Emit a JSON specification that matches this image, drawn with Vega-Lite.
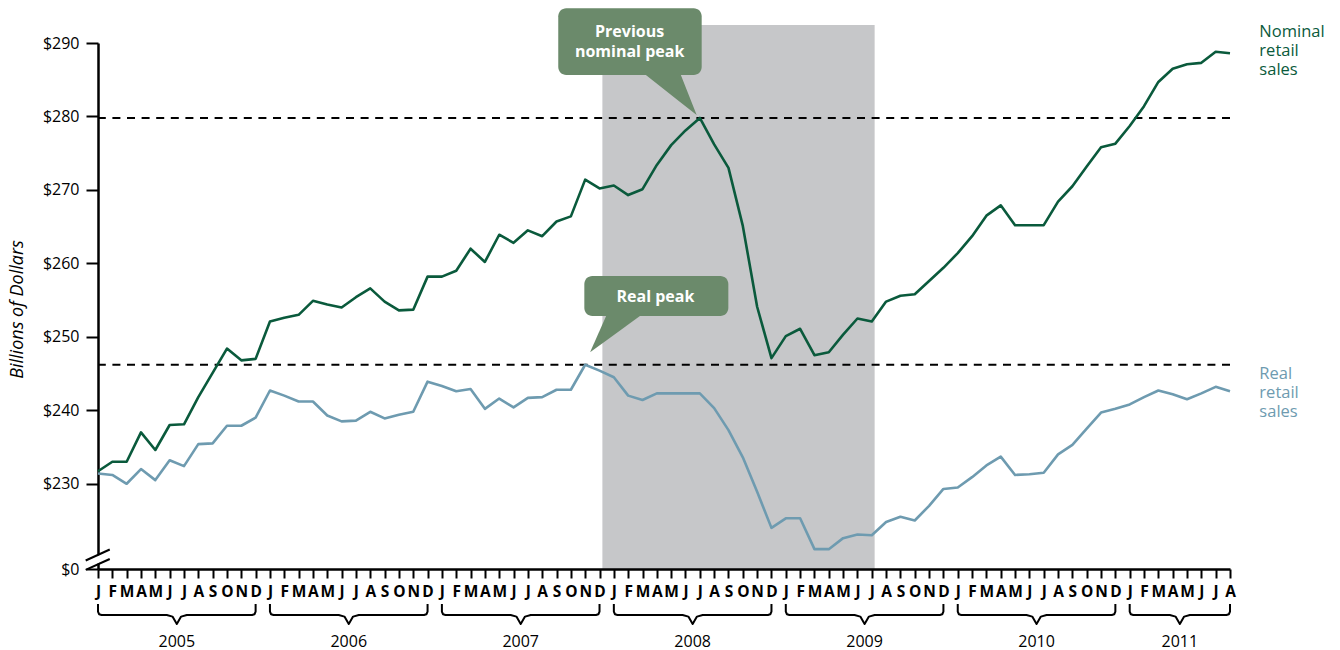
{
  "$schema": "https://vega.github.io/schema/vega-lite/v6.json",
  "width": 1132,
  "height": 526,
  "autosize": {"type": "none"},
  "padding": {"left": 98, "top": 43, "right": 110, "bottom": 81},
  "background": "#ffffff",
  "config": {
    "view": {"stroke": null},
    "font": "Open Sans",
    "axis": {"labelFont": "Open Sans", "titleFont": "Open Sans"},
    "axisX": {"labelOverlap": false, "labelFlush": false, "labelBound": false}
  },
  "datasets": {
    "sales": [
      {"m":0,"series":"Nominal retail sales","value":231.7},{"m":1,"series":"Nominal retail sales","value":233.0},{"m":2,"series":"Nominal retail sales","value":233.0},{"m":3,"series":"Nominal retail sales","value":237.0},{"m":4,"series":"Nominal retail sales","value":234.6},{"m":5,"series":"Nominal retail sales","value":238.0},{"m":6,"series":"Nominal retail sales","value":238.1},{"m":7,"series":"Nominal retail sales","value":241.8},{"m":8,"series":"Nominal retail sales","value":245.1},{"m":9,"series":"Nominal retail sales","value":248.4},{"m":10,"series":"Nominal retail sales","value":246.8},{"m":11,"series":"Nominal retail sales","value":247.0},
      {"m":12,"series":"Nominal retail sales","value":252.1},{"m":13,"series":"Nominal retail sales","value":252.6},{"m":14,"series":"Nominal retail sales","value":253.0},{"m":15,"series":"Nominal retail sales","value":254.9},{"m":16,"series":"Nominal retail sales","value":254.4},{"m":17,"series":"Nominal retail sales","value":254.0},{"m":18,"series":"Nominal retail sales","value":255.4},{"m":19,"series":"Nominal retail sales","value":256.6},{"m":20,"series":"Nominal retail sales","value":254.8},{"m":21,"series":"Nominal retail sales","value":253.6},{"m":22,"series":"Nominal retail sales","value":253.7},{"m":23,"series":"Nominal retail sales","value":258.2},
      {"m":24,"series":"Nominal retail sales","value":258.2},{"m":25,"series":"Nominal retail sales","value":259.0},{"m":26,"series":"Nominal retail sales","value":262.0},{"m":27,"series":"Nominal retail sales","value":260.2},{"m":28,"series":"Nominal retail sales","value":263.9},{"m":29,"series":"Nominal retail sales","value":262.8},{"m":30,"series":"Nominal retail sales","value":264.5},{"m":31,"series":"Nominal retail sales","value":263.7},{"m":32,"series":"Nominal retail sales","value":265.7},{"m":33,"series":"Nominal retail sales","value":266.4},{"m":34,"series":"Nominal retail sales","value":271.4},{"m":35,"series":"Nominal retail sales","value":270.2},
      {"m":36,"series":"Nominal retail sales","value":270.6},{"m":37,"series":"Nominal retail sales","value":269.3},{"m":38,"series":"Nominal retail sales","value":270.1},{"m":39,"series":"Nominal retail sales","value":273.4},{"m":40,"series":"Nominal retail sales","value":276.1},{"m":41,"series":"Nominal retail sales","value":278.1},{"m":42,"series":"Nominal retail sales","value":279.8},{"m":43,"series":"Nominal retail sales","value":276.2},{"m":44,"series":"Nominal retail sales","value":273.0},{"m":45,"series":"Nominal retail sales","value":265.1},{"m":46,"series":"Nominal retail sales","value":254.1},{"m":47,"series":"Nominal retail sales","value":247.1},
      {"m":48,"series":"Nominal retail sales","value":250.1},{"m":49,"series":"Nominal retail sales","value":251.1},{"m":50,"series":"Nominal retail sales","value":247.5},{"m":51,"series":"Nominal retail sales","value":247.9},{"m":52,"series":"Nominal retail sales","value":250.3},{"m":53,"series":"Nominal retail sales","value":252.5},{"m":54,"series":"Nominal retail sales","value":252.1},{"m":55,"series":"Nominal retail sales","value":254.8},{"m":56,"series":"Nominal retail sales","value":255.6},{"m":57,"series":"Nominal retail sales","value":255.8},{"m":58,"series":"Nominal retail sales","value":257.6},{"m":59,"series":"Nominal retail sales","value":259.4},
      {"m":60,"series":"Nominal retail sales","value":261.4},{"m":61,"series":"Nominal retail sales","value":263.7},{"m":62,"series":"Nominal retail sales","value":266.5},{"m":63,"series":"Nominal retail sales","value":267.9},{"m":64,"series":"Nominal retail sales","value":265.2},{"m":65,"series":"Nominal retail sales","value":265.2},{"m":66,"series":"Nominal retail sales","value":265.2},{"m":67,"series":"Nominal retail sales","value":268.4},{"m":68,"series":"Nominal retail sales","value":270.5},{"m":69,"series":"Nominal retail sales","value":273.2},{"m":70,"series":"Nominal retail sales","value":275.8},{"m":71,"series":"Nominal retail sales","value":276.3},
      {"m":72,"series":"Nominal retail sales","value":278.7},{"m":73,"series":"Nominal retail sales","value":281.4},{"m":74,"series":"Nominal retail sales","value":284.7},{"m":75,"series":"Nominal retail sales","value":286.5},{"m":76,"series":"Nominal retail sales","value":287.1},{"m":77,"series":"Nominal retail sales","value":287.3},{"m":78,"series":"Nominal retail sales","value":288.8},{"m":79,"series":"Nominal retail sales","value":288.6},
      {"m":0,"series":"Real retail sales","value":231.4},{"m":1,"series":"Real retail sales","value":231.2},{"m":2,"series":"Real retail sales","value":230.0},{"m":3,"series":"Real retail sales","value":232.0},{"m":4,"series":"Real retail sales","value":230.5},{"m":5,"series":"Real retail sales","value":233.2},{"m":6,"series":"Real retail sales","value":232.4},{"m":7,"series":"Real retail sales","value":235.4},{"m":8,"series":"Real retail sales","value":235.5},{"m":9,"series":"Real retail sales","value":237.9},{"m":10,"series":"Real retail sales","value":237.9},{"m":11,"series":"Real retail sales","value":239.0},
      {"m":12,"series":"Real retail sales","value":242.7},{"m":13,"series":"Real retail sales","value":242.0},{"m":14,"series":"Real retail sales","value":241.2},{"m":15,"series":"Real retail sales","value":241.2},{"m":16,"series":"Real retail sales","value":239.3},{"m":17,"series":"Real retail sales","value":238.5},{"m":18,"series":"Real retail sales","value":238.6},{"m":19,"series":"Real retail sales","value":239.8},{"m":20,"series":"Real retail sales","value":238.9},{"m":21,"series":"Real retail sales","value":239.4},{"m":22,"series":"Real retail sales","value":239.8},{"m":23,"series":"Real retail sales","value":243.9},
      {"m":24,"series":"Real retail sales","value":243.3},{"m":25,"series":"Real retail sales","value":242.6},{"m":26,"series":"Real retail sales","value":242.9},{"m":27,"series":"Real retail sales","value":240.2},{"m":28,"series":"Real retail sales","value":241.6},{"m":29,"series":"Real retail sales","value":240.4},{"m":30,"series":"Real retail sales","value":241.7},{"m":31,"series":"Real retail sales","value":241.8},{"m":32,"series":"Real retail sales","value":242.8},{"m":33,"series":"Real retail sales","value":242.8},{"m":34,"series":"Real retail sales","value":246.2},{"m":35,"series":"Real retail sales","value":245.4},
      {"m":36,"series":"Real retail sales","value":244.5},{"m":37,"series":"Real retail sales","value":242.0},{"m":38,"series":"Real retail sales","value":241.4},{"m":39,"series":"Real retail sales","value":242.3},{"m":40,"series":"Real retail sales","value":242.3},{"m":41,"series":"Real retail sales","value":242.3},{"m":42,"series":"Real retail sales","value":242.3},{"m":43,"series":"Real retail sales","value":240.3},{"m":44,"series":"Real retail sales","value":237.3},{"m":45,"series":"Real retail sales","value":233.6},{"m":46,"series":"Real retail sales","value":228.9},{"m":47,"series":"Real retail sales","value":224.0},
      {"m":48,"series":"Real retail sales","value":225.3},{"m":49,"series":"Real retail sales","value":225.3},{"m":50,"series":"Real retail sales","value":221.1},{"m":51,"series":"Real retail sales","value":221.1},{"m":52,"series":"Real retail sales","value":222.6},{"m":53,"series":"Real retail sales","value":223.1},{"m":54,"series":"Real retail sales","value":223.0},{"m":55,"series":"Real retail sales","value":224.8},{"m":56,"series":"Real retail sales","value":225.5},{"m":57,"series":"Real retail sales","value":225.0},{"m":58,"series":"Real retail sales","value":227.0},{"m":59,"series":"Real retail sales","value":229.3},
      {"m":60,"series":"Real retail sales","value":229.5},{"m":61,"series":"Real retail sales","value":230.9},{"m":62,"series":"Real retail sales","value":232.5},{"m":63,"series":"Real retail sales","value":233.7},{"m":64,"series":"Real retail sales","value":231.2},{"m":65,"series":"Real retail sales","value":231.3},{"m":66,"series":"Real retail sales","value":231.5},{"m":67,"series":"Real retail sales","value":234.0},{"m":68,"series":"Real retail sales","value":235.3},{"m":69,"series":"Real retail sales","value":237.5},{"m":70,"series":"Real retail sales","value":239.7},{"m":71,"series":"Real retail sales","value":240.2},
      {"m":72,"series":"Real retail sales","value":240.8},{"m":73,"series":"Real retail sales","value":241.8},{"m":74,"series":"Real retail sales","value":242.7},{"m":75,"series":"Real retail sales","value":242.2},{"m":76,"series":"Real retail sales","value":241.5},{"m":77,"series":"Real retail sales","value":242.3},{"m":78,"series":"Real retail sales","value":243.2},{"m":79,"series":"Real retail sales","value":242.6}
    ],
    "braces": [
      {"year":"2005","k":1,"m":0,"v":213.64},{"year":"2005","k":2,"m":0,"v":212.6},{"year":"2005","k":3,"m":0.08,"v":212.24},{"year":"2005","k":4,"m":0.25,"v":212.14},{"year":"2005","k":5,"m":4.8,"v":212.14},{"year":"2005","k":6,"m":5.2,"v":211.92},{"year":"2005","k":7,"m":5.5,"v":210.92},{"year":"2005","k":8,"m":5.8,"v":211.92},{"year":"2005","k":9,"m":6.2,"v":212.14},{"year":"2005","k":10,"m":10.75,"v":212.14},{"year":"2005","k":11,"m":10.92,"v":212.24},{"year":"2005","k":12,"m":11,"v":212.6},{"year":"2005","k":13,"m":11,"v":213.64},
      {"year":"2006","k":1,"m":12,"v":213.64},{"year":"2006","k":2,"m":12,"v":212.6},{"year":"2006","k":3,"m":12.08,"v":212.24},{"year":"2006","k":4,"m":12.25,"v":212.14},{"year":"2006","k":5,"m":16.8,"v":212.14},{"year":"2006","k":6,"m":17.2,"v":211.92},{"year":"2006","k":7,"m":17.5,"v":210.92},{"year":"2006","k":8,"m":17.8,"v":211.92},{"year":"2006","k":9,"m":18.2,"v":212.14},{"year":"2006","k":10,"m":22.75,"v":212.14},{"year":"2006","k":11,"m":22.92,"v":212.24},{"year":"2006","k":12,"m":23,"v":212.6},{"year":"2006","k":13,"m":23,"v":213.64},
      {"year":"2007","k":1,"m":24,"v":213.64},{"year":"2007","k":2,"m":24,"v":212.6},{"year":"2007","k":3,"m":24.08,"v":212.24},{"year":"2007","k":4,"m":24.25,"v":212.14},{"year":"2007","k":5,"m":28.8,"v":212.14},{"year":"2007","k":6,"m":29.2,"v":211.92},{"year":"2007","k":7,"m":29.5,"v":210.92},{"year":"2007","k":8,"m":29.8,"v":211.92},{"year":"2007","k":9,"m":30.2,"v":212.14},{"year":"2007","k":10,"m":34.75,"v":212.14},{"year":"2007","k":11,"m":34.92,"v":212.24},{"year":"2007","k":12,"m":35,"v":212.6},{"year":"2007","k":13,"m":35,"v":213.64},
      {"year":"2008","k":1,"m":36,"v":213.64},{"year":"2008","k":2,"m":36,"v":212.6},{"year":"2008","k":3,"m":36.08,"v":212.24},{"year":"2008","k":4,"m":36.25,"v":212.14},{"year":"2008","k":5,"m":40.8,"v":212.14},{"year":"2008","k":6,"m":41.2,"v":211.92},{"year":"2008","k":7,"m":41.5,"v":210.92},{"year":"2008","k":8,"m":41.8,"v":211.92},{"year":"2008","k":9,"m":42.2,"v":212.14},{"year":"2008","k":10,"m":46.75,"v":212.14},{"year":"2008","k":11,"m":46.92,"v":212.24},{"year":"2008","k":12,"m":47,"v":212.6},{"year":"2008","k":13,"m":47,"v":213.64},
      {"year":"2009","k":1,"m":48,"v":213.64},{"year":"2009","k":2,"m":48,"v":212.6},{"year":"2009","k":3,"m":48.08,"v":212.24},{"year":"2009","k":4,"m":48.25,"v":212.14},{"year":"2009","k":5,"m":52.8,"v":212.14},{"year":"2009","k":6,"m":53.2,"v":211.92},{"year":"2009","k":7,"m":53.5,"v":210.92},{"year":"2009","k":8,"m":53.8,"v":211.92},{"year":"2009","k":9,"m":54.2,"v":212.14},{"year":"2009","k":10,"m":58.75,"v":212.14},{"year":"2009","k":11,"m":58.92,"v":212.24},{"year":"2009","k":12,"m":59,"v":212.6},{"year":"2009","k":13,"m":59,"v":213.64},
      {"year":"2010","k":1,"m":60,"v":213.64},{"year":"2010","k":2,"m":60,"v":212.6},{"year":"2010","k":3,"m":60.08,"v":212.24},{"year":"2010","k":4,"m":60.25,"v":212.14},{"year":"2010","k":5,"m":64.8,"v":212.14},{"year":"2010","k":6,"m":65.2,"v":211.92},{"year":"2010","k":7,"m":65.5,"v":210.92},{"year":"2010","k":8,"m":65.8,"v":211.92},{"year":"2010","k":9,"m":66.2,"v":212.14},{"year":"2010","k":10,"m":70.75,"v":212.14},{"year":"2010","k":11,"m":70.92,"v":212.24},{"year":"2010","k":12,"m":71,"v":212.6},{"year":"2010","k":13,"m":71,"v":213.64},
      {"year":"2011","k":1,"m":72,"v":213.64},{"year":"2011","k":2,"m":72,"v":212.6},{"year":"2011","k":3,"m":72.08,"v":212.24},{"year":"2011","k":4,"m":72.25,"v":212.14},{"year":"2011","k":5,"m":74.8,"v":212.14},{"year":"2011","k":6,"m":75.2,"v":211.92},{"year":"2011","k":7,"m":75.5,"v":210.92},{"year":"2011","k":8,"m":75.8,"v":211.92},{"year":"2011","k":9,"m":76.2,"v":212.14},{"year":"2011","k":10,"m":78.75,"v":212.14},{"year":"2011","k":11,"m":78.92,"v":212.24},{"year":"2011","k":12,"m":79,"v":212.6},{"year":"2011","k":13,"m":79,"v":213.64}
    ],
    "pointers": [
      {"callout":"Previous nominal peak","m":38.06,"lo":285.9,"hi":285.9},
      {"callout":"Previous nominal peak","m":40.62,"lo":281.98,"hi":285.9},
      {"callout":"Previous nominal peak","m":41.78,"lo":280.2,"hi":280.2},
      {"callout":"Real peak","m":34.34,"lo":247.9,"hi":247.9},
      {"callout":"Real peak","m":35.5,"lo":249.54,"hi":253.0},
      {"callout":"Real peak","m":37.94,"lo":253.0,"hi":253.0}
    ]
  },
  "layer": [
    {
      "data": {"values": [{"period": "Recession", "start": 35.2, "end": 54.2}]},
      "mark": {"type": "rect", "color": "#c6c7c9"},
      "encoding": {
        "x": {
          "field": "start", "type": "quantitative",
          "scale": {"domain": [0, 79], "nice": false, "zero": false},
          "axis": {
            "values": [0,1,2,3,4,5,6,7,8,9,10,11,12,13,14,15,16,17,18,19,20,21,22,23,24,25,26,27,28,29,30,31,32,33,34,35,36,37,38,39,40,41,42,43,44,45,46,47,48,49,50,51,52,53,54,55,56,57,58,59,60,61,62,63,64,65,66,67,68,69,70,71,72,73,74,75,76,77,78,79],
            "tickCount": 100,
            "labelExpr": "['J','F','M','A','M','J','J','A','S','O','N','D'][datum.value % 12]",
            "title": null,
            "grid": false,
            "domainColor": "#000000", "domainWidth": 2.5,
            "tickColor": "#000000", "tickWidth": 2, "tickSize": 9,
            "labelFontWeight": "bold", "labelFontSize": 15.5, "labelColor": "#000000",
            "labelPadding": 6, "labelOverlap": false, "labelFlush": false, "labelBound": false,
            "labelAlign": "center",
            "zindex": 1
          }
        },
        "x2": {"field": "end"},
        "y": {
          "datum": 218.4, "type": "quantitative",
          "scale": {"domain": [218.4, 290], "nice": false, "zero": false},
          "axis": {
            "values": [218.4, 230, 240, 250, 260, 270, 280, 290],
            "tickCount": 20,
            "labelExpr": "datum.value < 225 ? '$0' : '$' + datum.value",
            "title": "Billions of Dollars",
            "titleFontStyle": "italic", "titleFontWeight": "normal", "titleFontSize": 18, "titleColor": "#000000",
            "titleAngle": 270, "titleX": -81, "titleY": 266, "titleAlign": "center", "titleBaseline": "middle",
            "grid": false,
            "domainColor": "#000000", "domainWidth": 2.5,
            "tickColor": "#000000", "tickWidth": 2, "tickSize": 12,
            "labelFontSize": 16, "labelColor": "#000000", "labelPadding": 7,
            "zindex": 0
          }
        },
        "y2": {"datum": 292.45}
      }
    },
    {
      "data": {"values": [{"peak": "Previous nominal peak", "value": 279.8}, {"peak": "Real peak", "value": 246.2}]},
      "mark": {"type": "rule", "color": "#000000", "strokeWidth": 2, "strokeDash": [8, 6.6]},
      "encoding": {
        "y": {"field": "value", "type": "quantitative"}
      }
    },
    {
      "data": {"name": "sales"},
      "mark": {"type": "line", "strokeWidth": 2.6, "strokeJoin": "round"},
      "encoding": {
        "x": {
          "field": "m", "type": "quantitative",
          "scale": {"domain": [0, 79], "nice": false, "zero": false},
          "axis": {
            "values": [0,1,2,3,4,5,6,7,8,9,10,11,12,13,14,15,16,17,18,19,20,21,22,23,24,25,26,27,28,29,30,31,32,33,34,35,36,37,38,39,40,41,42,43,44,45,46,47,48,49,50,51,52,53,54,55,56,57,58,59,60,61,62,63,64,65,66,67,68,69,70,71,72,73,74,75,76,77,78,79],
            "tickCount": 100,
            "labelExpr": "['J','F','M','A','M','J','J','A','S','O','N','D'][datum.value % 12]",
            "title": null,
            "grid": false,
            "domainColor": "#000000", "domainWidth": 2.5,
            "tickColor": "#000000", "tickWidth": 2, "tickSize": 9,
            "labelFontWeight": "bold", "labelFontSize": 15.5, "labelColor": "#000000",
            "labelPadding": 6, "labelOverlap": false, "labelFlush": false, "labelBound": false,
            "labelAlign": "center",
            "zindex": 1
          }
        },
        "y": {
          "field": "value", "type": "quantitative",
          "scale": {"domain": [218.4, 290], "nice": false, "zero": false},
          "axis": {
            "values": [218.4, 230, 240, 250, 260, 270, 280, 290],
            "tickCount": 20,
            "labelExpr": "datum.value < 225 ? '$0' : '$' + datum.value",
            "title": "Billions of Dollars",
            "titleFontStyle": "italic", "titleFontWeight": "normal", "titleFontSize": 18, "titleColor": "#000000",
            "titleAngle": 270, "titleX": -81, "titleY": 266, "titleAlign": "center", "titleBaseline": "middle",
            "grid": false,
            "domainColor": "#000000", "domainWidth": 2.5,
            "tickColor": "#000000", "tickWidth": 2, "tickSize": 12,
            "labelFontSize": 16, "labelColor": "#000000", "labelPadding": 7,
            "zindex": 0
          }
        },
        "color": {
          "field": "series", "type": "nominal",
          "scale": {"domain": ["Nominal retail sales", "Real retail sales"], "range": ["#0a5a3c", "#6e9bb0"]},
          "legend": null
        }
      }
    },
    {
      "data": {"values": [{"series": "Nominal retail sales", "label": "Nominal\nretail\nsales"}]},
      "mark": {"type": "text", "align": "left", "baseline": "alphabetic", "fontSize": 16.5, "lineHeight": 18.8, "lineBreak": "\n"},
      "encoding": {
        "x": {"datum": 81.05, "type": "quantitative"},
        "y": {"datum": 290.78, "type": "quantitative"},
        "text": {"field": "label"},
        "color": {"field": "series", "type": "nominal", "legend": null}
      }
    },
    {
      "data": {"values": [{"series": "Real retail sales", "label": "Real\nretail\nsales"}]},
      "mark": {"type": "text", "align": "left", "baseline": "alphabetic", "fontSize": 16.5, "lineHeight": 18.8, "lineBreak": "\n"},
      "encoding": {
        "x": {"datum": 81.05, "type": "quantitative"},
        "y": {"datum": 244.22, "type": "quantitative"},
        "text": {"field": "label"},
        "color": {"field": "series", "type": "nominal", "legend": null}
      }
    },
    {
      "data": {"name": "pointers"},
      "mark": {"type": "area", "color": "#6b8a6b", "opacity": 1},
      "encoding": {
        "x": {"field": "m", "type": "quantitative"},
        "y": {"field": "lo", "type": "quantitative"},
        "y2": {"field": "hi"},
        "detail": {"field": "callout"}
      }
    },
    {
      "data": {"values": [{"callout": "Previous nominal peak", "label": "Previous\nnominal peak"}]},
      "layer": [
        {
          "mark": {"type": "rect", "color": "#6b8a6b", "cornerRadius": 8},
          "encoding": {
            "x": {"datum": 32.12, "type": "quantitative"},
            "x2": {"datum": 42.13},
            "y": {"datum": 294.72, "type": "quantitative"},
            "y2": {"datum": 285.64}
          }
        },
        {
          "mark": {"type": "text", "align": "center", "baseline": "alphabetic", "fontSize": 16, "fontWeight": "bold", "color": "#ffffff", "lineHeight": 20.6, "lineBreak": "\n"},
          "encoding": {
            "x": {"datum": 37.1, "type": "quantitative"},
            "y": {"datum": 290.86, "type": "quantitative"},
            "text": {"field": "label"}
          }
        }
      ]
    },
    {
      "data": {"values": [{"callout": "Real peak", "label": "Real peak"}]},
      "layer": [
        {
          "mark": {"type": "rect", "color": "#6b8a6b", "cornerRadius": 8},
          "encoding": {
            "x": {"datum": 33.94, "type": "quantitative"},
            "x2": {"datum": 43.99},
            "y": {"datum": 258.28, "type": "quantitative"},
            "y2": {"datum": 252.84}
          }
        },
        {
          "mark": {"type": "text", "align": "center", "baseline": "alphabetic", "fontSize": 16, "fontWeight": "bold", "color": "#ffffff"},
          "encoding": {
            "x": {"datum": 38.9, "type": "quantitative"},
            "y": {"datum": 254.79, "type": "quantitative"},
            "text": {"field": "label"}
          }
        }
      ]
    },
    {
      "data": {"name": "braces"},
      "mark": {"type": "line", "color": "#000000", "strokeWidth": 2, "strokeJoin": "round"},
      "encoding": {
        "x": {"field": "m", "type": "quantitative"},
        "y": {"field": "v", "type": "quantitative"},
        "detail": {"field": "year"},
        "order": {"field": "k"}
      }
    },
    {
      "data": {"name": "braces"},
      "transform": [{"filter": "datum.k == 7"}],
      "mark": {"type": "text", "align": "center", "baseline": "alphabetic", "fontSize": 16, "color": "#000000"},
      "encoding": {
        "x": {"field": "m", "type": "quantitative"},
        "y": {"datum": 207.75, "type": "quantitative"},
        "text": {"field": "year"}
      }
    },
    {
      "data": {"values": [{"marker": "axis break"}]},
      "layer": [
        {
          "mark": {"type": "rule", "color": "#ffffff", "strokeWidth": 7},
          "encoding": {
            "x": {"datum": -0.28, "type": "quantitative"},
            "x2": {"datum": 0.25},
            "y": {"datum": 219.43, "type": "quantitative"},
            "y2": {"datum": 219.9}
          }
        },
        {
          "mark": {"type": "rule", "color": "#000000", "strokeWidth": 2},
          "encoding": {
            "x": {"datum": -0.86, "type": "quantitative"},
            "x2": {"datum": 0.82},
            "y": {"datum": 219.56, "type": "quantitative"},
            "y2": {"datum": 221.05}
          }
        },
        {
          "mark": {"type": "rule", "color": "#000000", "strokeWidth": 2},
          "encoding": {
            "x": {"datum": -0.86, "type": "quantitative"},
            "x2": {"datum": 0.82},
            "y": {"datum": 218.27, "type": "quantitative"},
            "y2": {"datum": 219.76}
          }
        }
      ]
    }
  ]
}
